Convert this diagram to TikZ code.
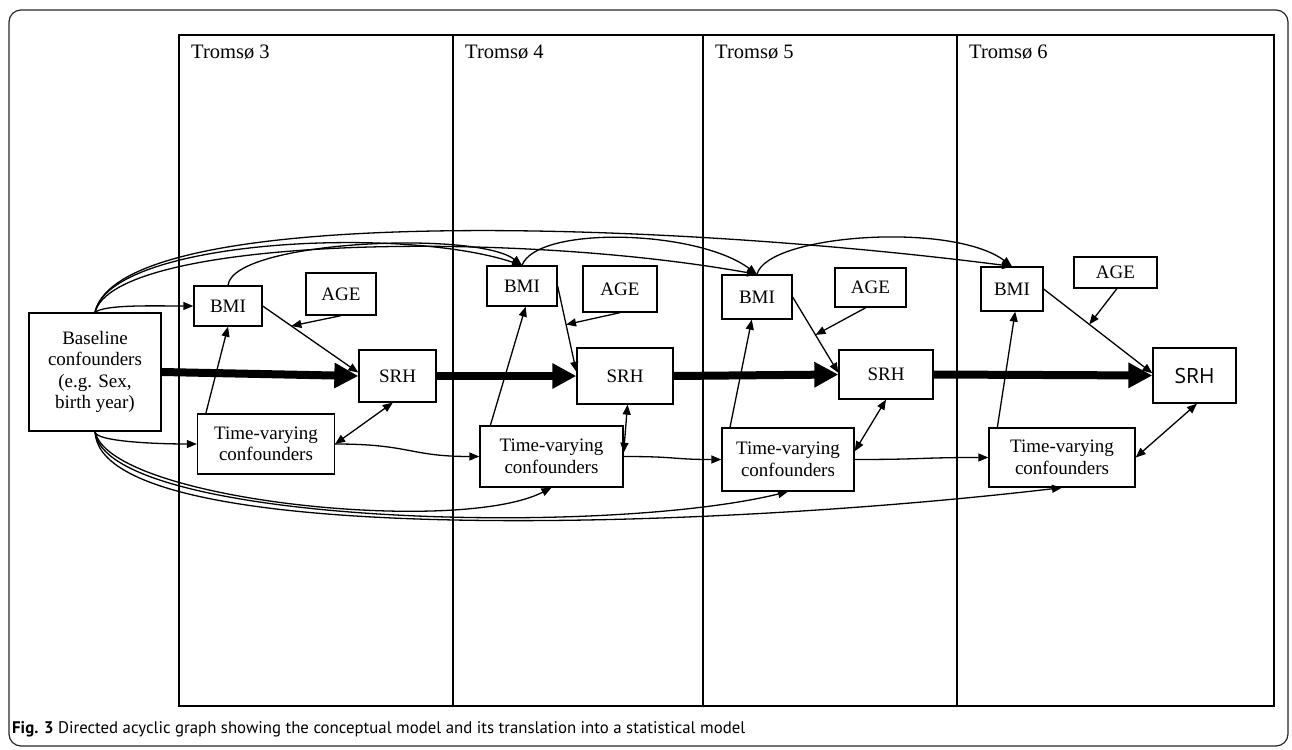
\documentclass[tikz,border=0pt]{standalone}
\usepackage{fontspec}
\setmainfont{Liberation Serif}
\newfontfamily\capfont{PT Sans}
\newfontfamily\srhfont{Open Sans}
\usetikzlibrary{positioning,arrows.meta,calc}

\begin{document}
\begin{tikzpicture}[x=1bp,y=-1bp,
    box/.style={draw, line width=1.3bp, inner sep=0pt, align=center,
        font=\fontsize{19bp}{21.5bp}\selectfont},
    edge/.style={line width=1.3bp, -{Triangle[length=10bp,width=8bp]}},
    both/.style={line width=1.3bp, {Triangle[length=10bp,width=8bp]}-{Triangle[length=10bp,width=8bp]}},
    main/.style={line width=8bp, -{Triangle[length=24bp,width=24bp]}},
    panel/.style={draw, line width=1.4bp}]
    \useasboundingbox (0,0) rectangle (1292,750);

    % Frame
    \draw[line width=1.2bp, rounded corners=12bp, black!85] (9,10) rectangle (1288,746);

    % Panels
    \foreach \l/\r/\n in {179/453/3, 453/703/4, 703/957/5, 957/1274/6} {
        \draw[panel] (\l,35) rectangle (\r,706);
        \node[anchor=west, inner sep=0pt, font=\fontsize{20.5bp}{24bp}\selectfont] (tr\n) at (\l+12,52) {Tromsø \n};
    }
    \draw[line width=2.2bp] (703,35) -- (703,706);
    \draw[line width=2.2bp] (1274,35) -- (1274,706);

    % Nodes
    \node[box, minimum width=132bp, minimum height=118bp] (base) at (95,372) {Baseline\\confounders\\(e.g. Sex,\\birth year)};

    \node[box, minimum width=68bp, minimum height=40bp] (bmiA) at (228,306) {BMI};
    \node[box, minimum width=70bp, minimum height=42bp] (ageA) at (341,294) {AGE};
    \node[box, minimum width=77bp, minimum height=52bp] (srhA) at (397.5,376) {SRH};
    \node[box, minimum width=137bp, minimum height=60bp] (tvA) at (266,444) {Time-varying\\confounders};

    \node[box, minimum width=70bp, minimum height=40bp] (bmiB) at (522,286) {BMI};
    \node[box, minimum width=74bp, minimum height=46bp] (ageB) at (620,289) {AGE};
    \node[box, minimum width=96bp, minimum height=56bp] (srhB) at (625,376) {SRH};
    \node[box, minimum width=143bp, minimum height=61bp] (tvB) at (551.5,456.5) {Time-varying\\confounders};

    \node[box, minimum width=70bp, minimum height=44bp] (bmiC) at (757,297) {BMI};
    \node[box, minimum width=71bp, minimum height=39bp] (ageC) at (870.5,287.5) {AGE};
    \node[box, minimum width=94bp, minimum height=49bp] (srhC) at (886,374.5) {SRH};
    \node[box, minimum width=132bp, minimum height=63bp] (tvC) at (788,459.5) {Time-varying\\confounders};

    \node[box, minimum width=62bp, minimum height=44bp] (bmiD) at (1012,289) {BMI};
    \node[box, minimum width=83bp, minimum height=31bp] (ageD) at (1115.5,272.5) {AGE};
    \node[box, minimum width=83bp, minimum height=55bp, font=\srhfont\fontsize{21bp}{24bp}\selectfont] (srhD) at (1194.5,375.5) {SRH};
    \node[box, minimum width=146bp, minimum height=59bp] (tvD) at (1062,457.5) {Time-varying\\confounders};

    % Points on the BMI -> SRH edges
    \coordinate (mA) at ($(bmiA.east)!0.3!(srhA.175)$);
    \coordinate (mB) at ($(bmiB.east)!0.45!(srhB.175)$);
    \coordinate (mC) at ($(bmiC.east)!0.5!(srhC.178)$);
    \coordinate (mD) at ($(bmiD.east)!0.42!(srhD.177)$);

    % SRH chain
    \draw[main] (base.east) -- (srhA.west);
    \draw[main] (srhA.east) -- (srhB.west);
    \draw[main] (srhB.east) -- (srhC.west);
    \draw[main] (srhC.east) -- (srhD.west);

    % Tromsø 3
    \draw[edge] (base.north) .. controls +(10,-8) and +(-40,0) .. (bmiA.west);
    \draw[edge] (tvA.153) -- (bmiA.south);
    \draw[edge] (bmiA.east) -- (srhA.175);
    \draw[edge] (ageA.south) -- (mA);
    \draw[both] (srhA.-100) -- (tvA.east);
    \draw[edge] (base.south) .. controls +(0,10) and +(-40,0) .. (tvA.west);

    % Tromsø 4
    \draw[edge] (tvB.153) -- (bmiB.-80);
    \draw[edge] (bmiB.east) -- (srhB.175);
    \draw[edge] (ageB.south) -- (mB);
    \draw[both] (srhB.-85) -- (tvB.3);

    % Tromsø 5
    \draw[edge] (tvC.151) -- (bmiC.-103);
    \draw[edge] (bmiC.east) -- (srhC.178);
    \draw[edge] (ageC.-103) -- (mC);
    \draw[both] (srhC.south) -- (tvC.7);

    % Tromsø 6
    \draw[edge] (tvD.155) -- (bmiD.-82);
    \draw[edge] (bmiD.east) -- (srhD.177);
    \draw[edge] (ageD.-85) -- (mD);
    \draw[both] (srhD.-85) -- (tvD.east);

    % Time-varying chain
    \draw[edge] (tvA.east) .. controls +(75,0) and +(-70,0) .. (tvB.west);
    \draw[edge] (tvB.east) .. controls +(55,0) and +(-50,0) .. (tvC.west);
    \draw[edge] (tvC.east) .. controls +(70,0) and +(-70,0) .. (tvD.west);

    % BMI chain
    \draw[edge] (bmiA.north) .. controls +(5,-45) and +(-45,-35) .. (bmiB.north);
    \draw[edge] (bmiB.north) .. controls +(15,-40) and +(-60,-45) .. (bmiC.north);
    \draw[edge] (bmiC.north) .. controls +(10,-40) and +(-60,-45) .. (bmiD.north);

    % Baseline to later BMI
    \draw[edge] (base.north) .. controls +(15,-73) and +(-120,-40) .. (bmiB.north);
    \draw[edge] (base.north) .. controls +(20,-75) and +(-250,-45) .. (bmiC.north);
    \draw[edge] (base.north) .. controls +(25,-110) and +(-350,-45) .. (bmiD.north);

    % Baseline to later confounders
    \draw[edge] (base.south) .. controls +(15,69) and +(-93,48) .. (tvB.south);
    \draw[edge] (base.south) .. controls +(10,92) and +(-188,46) .. (tvC.south);
    \draw[edge] (base.south) .. controls +(5,118) and +(-358,42) .. (tvD.south);

    % Caption
    \node[anchor=base west, inner sep=0pt, font=\capfont\fontsize{16.8bp}{19bp}\selectfont] (cap) at (12,733)
        {\textbf{Fig. 3} Directed acyclic graph showing the conceptual model and its translation into a statistical model};
\end{tikzpicture}
\end{document}
